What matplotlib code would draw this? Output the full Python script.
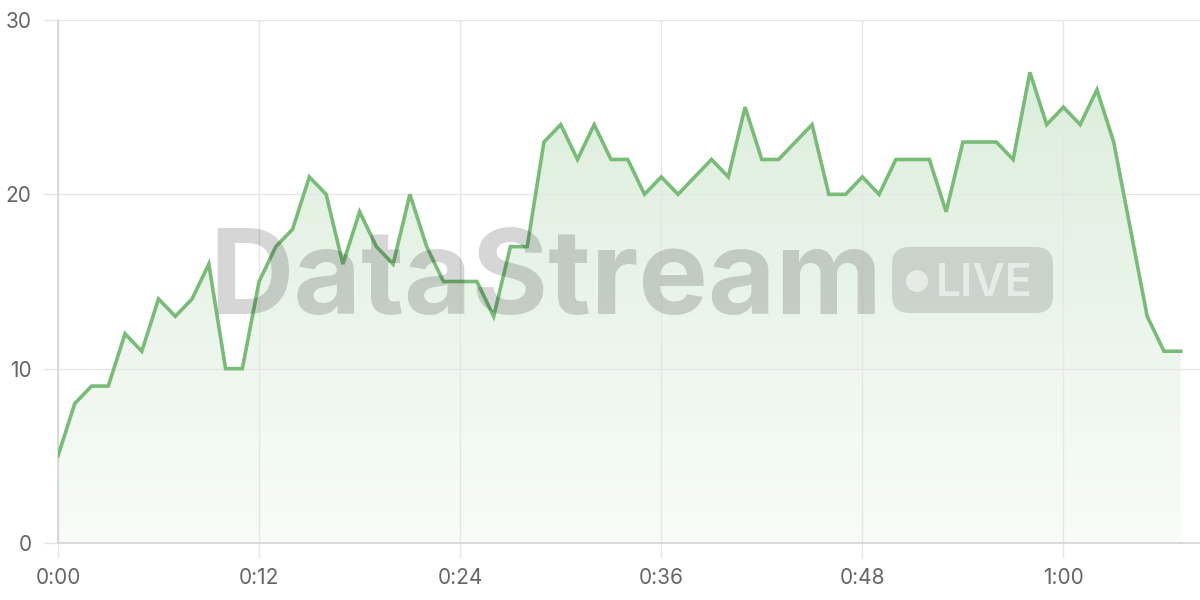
import matplotlib.pyplot as plt
import numpy as np
from matplotlib.patches import FancyBboxPatch, Ellipse
from matplotlib.colors import LinearSegmentedColormap

# seconds since start
seconds = list(range(68))
values = [5, 8, 9, 9, 12, 11, 14, 13, 14, 16,
          10, 10, 15, 17, 18, 21, 20, 16, 19, 17,
          16, 20, 17, 15, 15, 15, 13, 17, 17, 23,
          24, 22, 24, 22, 22, 20, 21, 20, 21, 22,
          21, 25, 22, 22, 23, 24, 20, 20, 21, 20,
          22, 22, 22, 19, 23, 23, 23, 22, 27, 24,
          25, 24, 26, 23, 18, 13, 11, 11]
x_ticks = [0, 12, 24, 36, 48, 60]
x_labels = ["0:00", "0:12", "0:24", "0:36", "0:48", "1:00"]
y_ticks = [0, 10, 20, 30]

LINE = "#78bc78"
GRID = "#e6e6e6"
TEXT = "#666666"

plt.rcParams['font.family'] = ['Inter', 'DejaVu Sans']

fig = plt.figure(figsize=(12, 6), dpi=100)
ax = fig.add_axes([58 / 1200, 57 / 600, 1 - 58 / 1200, (543 - 20) / 600])

x = np.array(seconds)
y = np.array(values)

# gradient fill under the line
cmap = LinearSegmentedColormap.from_list(
    "g", [(0.47, 0.74, 0.47, 0.05), (0.47, 0.74, 0.47, 0.28)])
grad = np.linspace(0, 1, 256).reshape(-1, 1)
im = ax.imshow(grad, cmap=cmap, aspect="auto", origin="lower",
               extent=[x.min(), x.max(), 0, 30], zorder=1)
poly = ax.fill_between(x, y, 0, color="none")
clip = poly.get_paths()[0]
im.set_clip_path(clip, transform=ax.transData)

ax.plot(x, y, color=LINE, lw=2.6, zorder=3, solid_joinstyle="miter")

ax.set_xlim(0, 68.15)
ax.set_ylim(0, 30)
ax.set_xticks(x_ticks)
ax.set_xticklabels(x_labels)
ax.set_yticks(y_ticks)
ax.grid(True, color=GRID, lw=1, zorder=0)
ax.tick_params(axis="both", colors=GRID, length=11, width=1,
               labelcolor=TEXT, labelsize=15)
ax.tick_params(axis="x", pad=7)
ax.tick_params(axis="y", pad=8)
for side in ["top", "right"]:
    ax.spines[side].set_visible(False)
for side in ["left", "bottom"]:
    ax.spines[side].set_color("#d4d4d4")
    ax.spines[side].set_linewidth(1.2)

# watermark
fig.text(209 / 1200, 1 - 314 / 600, "DataStream", fontsize=84, fontweight="bold",
         color="black", alpha=0.16, ha="left", va="baseline", zorder=5)
badge = FancyBboxPatch((892 / 1200, 1 - 313 / 600), 161 / 1200, 66 / 600,
                       boxstyle="round,pad=0,rounding_size=0.0145",
                       transform=fig.transFigure, facecolor="black", alpha=0.13,
                       edgecolor="none", zorder=5,
                       mutation_aspect=2)
fig.patches.append(badge)
fig.patches.append(Ellipse((917 / 1200, 1 - 281 / 600), 22 / 1200, 22 / 600,
                           transform=fig.transFigure, facecolor="white",
                           alpha=0.55, edgecolor="none", zorder=6))
fig.text(936 / 1200, 1 - 296 / 600, "LIVE", fontsize=32, fontweight="semibold",
         color="white", alpha=0.55, ha="left", va="baseline", zorder=6)

fig.savefig("out.png", dpi=100)
